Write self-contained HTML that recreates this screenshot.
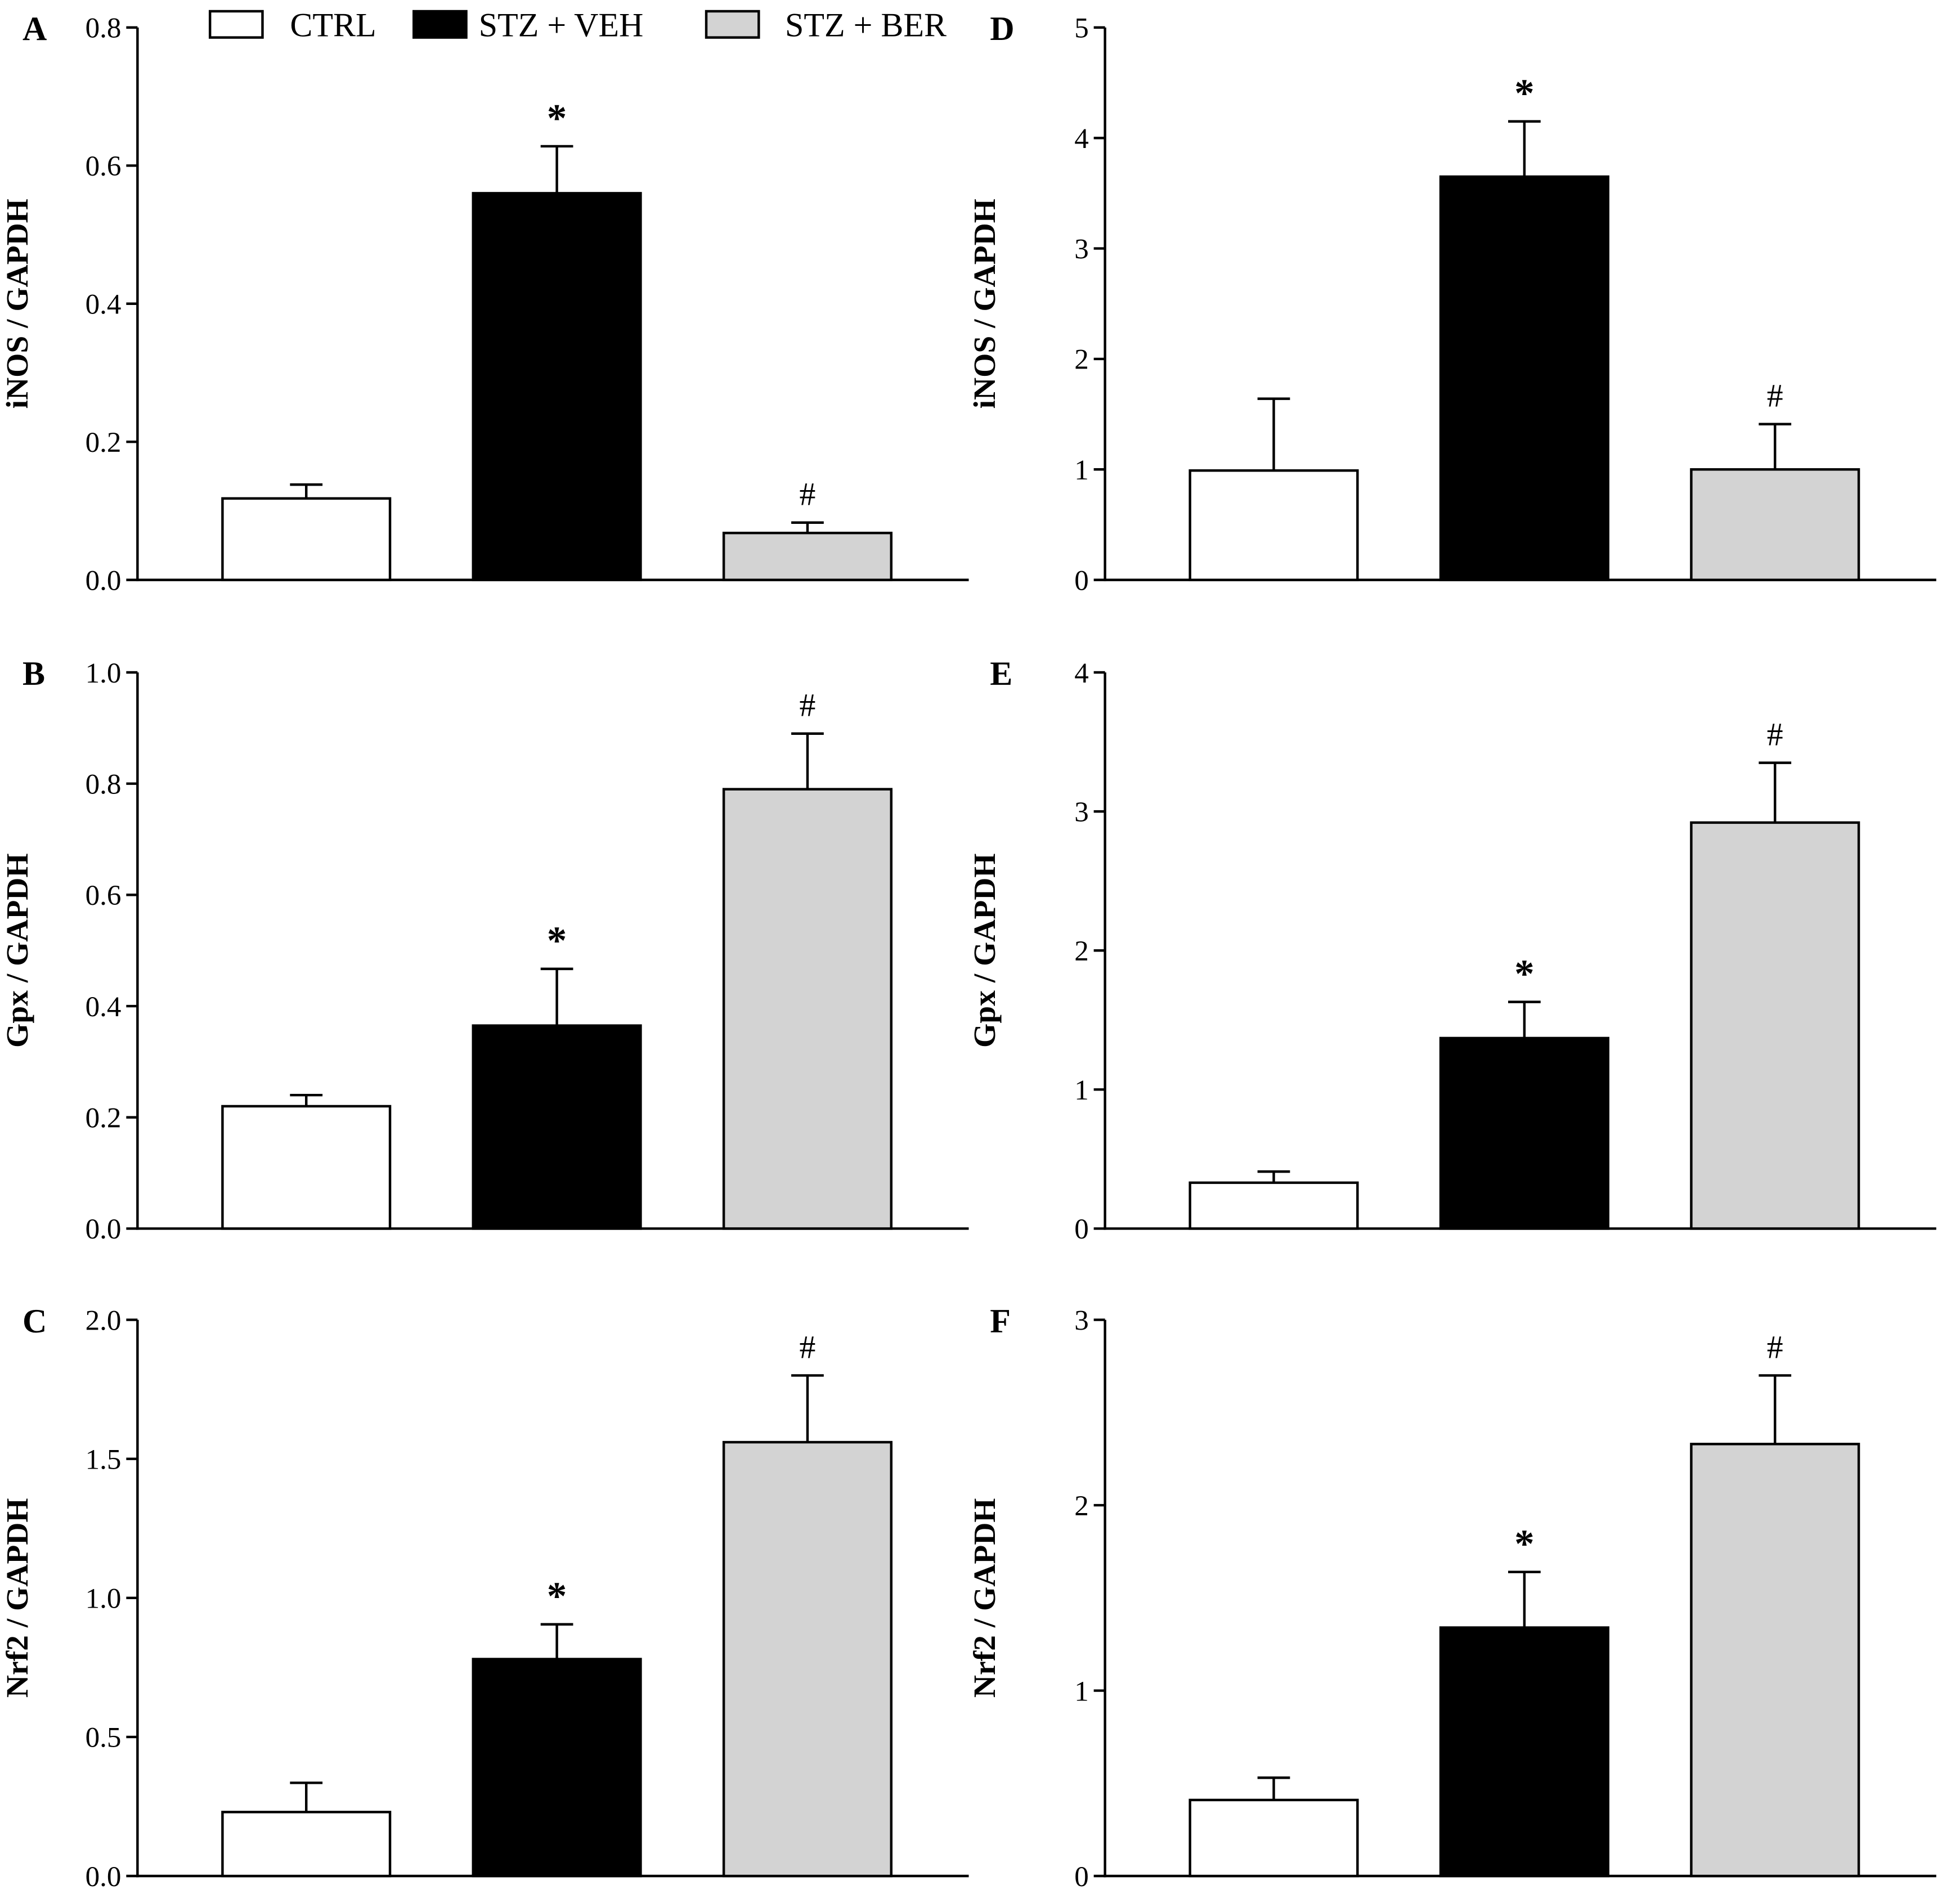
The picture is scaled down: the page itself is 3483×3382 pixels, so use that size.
<!DOCTYPE html>
<html><head><meta charset="utf-8"><style>
html,body{margin:0;padding:0;background:#fff;}
svg{display:block;font-family:"Liberation Serif",serif;}
</style></head><body>
<svg id="chart" width="3483" height="3382" viewBox="0 0 1568 1522.6" preserveAspectRatio="none" xmlns="http://www.w3.org/2000/svg">
<g>
<rect x="168" y="9" width="42" height="21" fill="#fff" stroke="#000" stroke-width="2"/>
<text x="232" y="29" font-size="27">CTRL</text>
<rect x="331" y="9" width="42" height="21" fill="#000" stroke="#000" stroke-width="2"/>
<text x="383" y="29" font-size="27">STZ + VEH</text>
<rect x="565" y="9" width="42" height="21" fill="#d3d3d3" stroke="#000" stroke-width="2"/>
<text x="628" y="29" font-size="27">STZ + BER</text>
</g>
</svg>
<script>
const groups = ["CTRL","STZ + VEH","STZ + BER"];
const valuesA = [0.118,0.56,0.068]; const errA = [0.138,0.628,0.083];
const valuesB = [0.22,0.365,0.79]; const errB = [0.24,0.467,0.89];
const valuesC = [0.23,0.78,1.56]; const errC = [0.335,0.905,1.80];
const valuesD = [0.99,3.65,1.0]; const errD = [1.64,4.15,1.41];
const valuesE = [0.33,1.37,2.92]; const errE = [0.41,1.63,3.35];
const valuesF = [0.41,1.34,2.33]; const errF = [0.53,1.64,2.70];
const ticksA = ["0.0","0.2","0.4","0.6","0.8"];
const ticksB = ["0.0","0.2","0.4","0.6","0.8","1.0"];
const ticksC = ["0.0","0.5","1.0","1.5","2.0"];
const ticksD = ["0","1","2","3","4","5"];
const ticksE = ["0","1","2","3","4"];
const ticksF = ["0","1","2","3"];
const marksA = ["","*","#"];
const marksB = ["","*","#"];
const marksC = ["","*","#"];
const marksD = ["","*","#"];
const marksE = ["","*","#"];
const marksF = ["","*","#"];

const NS="http://www.w3.org/2000/svg";
const svg=document.getElementById('chart');
function mk(tag,attrs,parent){const e=document.createElementNS(NS,tag);for(const k in attrs)e.setAttribute(k,attrs[k]);(parent||svg).appendChild(e);return e;}
const fills=["#fff","#000","#d3d3d3"];
const panels=[
 {id:"a",letter:"A",title:"iNOS / GAPDH",v:valuesA,e:errA,t:ticksA,m:marksA,ax:110,top:22,bot:464,x0:178},
 {id:"b",letter:"B",title:"Gpx / GAPDH",v:valuesB,e:errB,t:ticksB,m:marksB,ax:110,top:538,bot:983,x0:178},
 {id:"c",letter:"C",title:"Nrf2 / GAPDH",v:valuesC,e:errC,t:ticksC,m:marksC,ax:110,top:1056,bot:1501,x0:178},
 {id:"d",letter:"D",title:"iNOS / GAPDH",v:valuesD,e:errD,t:ticksD,m:marksD,ax:884,top:22,bot:464,x0:952},
 {id:"e",letter:"E",title:"Gpx / GAPDH",v:valuesE,e:errE,t:ticksE,m:marksE,ax:884,top:538,bot:983,x0:952},
 {id:"f",letter:"F",title:"Nrf2 / GAPDH",v:valuesF,e:errF,t:ticksF,m:marksF,ax:884,top:1056,bot:1501,x0:952}
];
panels.forEach(p=>{
 const g=mk('g',{});
 
 
 const tmax=parseFloat(p.t[p.t.length-1]);
 const y=v=>p.bot-(v/tmax)*(p.bot-p.top);
 const L=mk('text',{x:p.ax-92,y:p.top+10,'font-size':27,'font-weight':'bold'},g);L.textContent=p.letter;
 
 
 const cx=p.ax-88, cy=(p.top+p.bot)/2;
 const T=mk('text',{x:cx,y:cy,'font-size':25,'font-weight':'bold','text-anchor':'middle',transform:`rotate(-90 ${cx} ${cy})`},g);T.textContent=p.title;
 
 
 mk('line',{x1:p.ax,y1:p.top,x2:p.ax,y2:p.bot+1,stroke:'#000','stroke-width':2},g);
 mk('line',{x1:p.ax-1,y1:p.bot,x2:p.ax+665,y2:p.bot,stroke:'#000','stroke-width':2},g);
 p.t.forEach(t=>{
  const yy=y(parseFloat(t));
  mk('line',{x1:p.ax-9,y1:yy,x2:p.ax,y2:yy,stroke:'#000','stroke-width':2},g);
  const tx=mk('text',{x:p.ax-13,y:yy+8,'font-size':23,'text-anchor':'end'},g);tx.textContent=t;
  
  
 });
 p.v.forEach((v,i)=>{
  const bx=p.x0+i*200.5, bw=134, mid=bx+bw/2;
  const ey=y(p.e[i]);
  mk('line',{x1:mid,y1:ey,x2:mid,y2:y(v),stroke:'#000','stroke-width':2},g);
  mk('line',{x1:mid-13,y1:ey,x2:mid+13,y2:ey,stroke:'#000','stroke-width':2},g);
  const r=mk('rect',{x:bx,y:y(v),width:bw,height:p.bot-y(v),fill:fills[i],stroke:'#000','stroke-width':2},g);
  
  
  if(p.m[i]){
   const s=p.m[i]==='*';
   const a=mk('text',{x:mid,y:s?ey-12:ey-14,'font-size':s?32:26,'font-weight':s?'bold':'normal','text-anchor':'middle'},g);a.textContent=p.m[i];
   
   
  }
 });
});
</script>
</body></html>
